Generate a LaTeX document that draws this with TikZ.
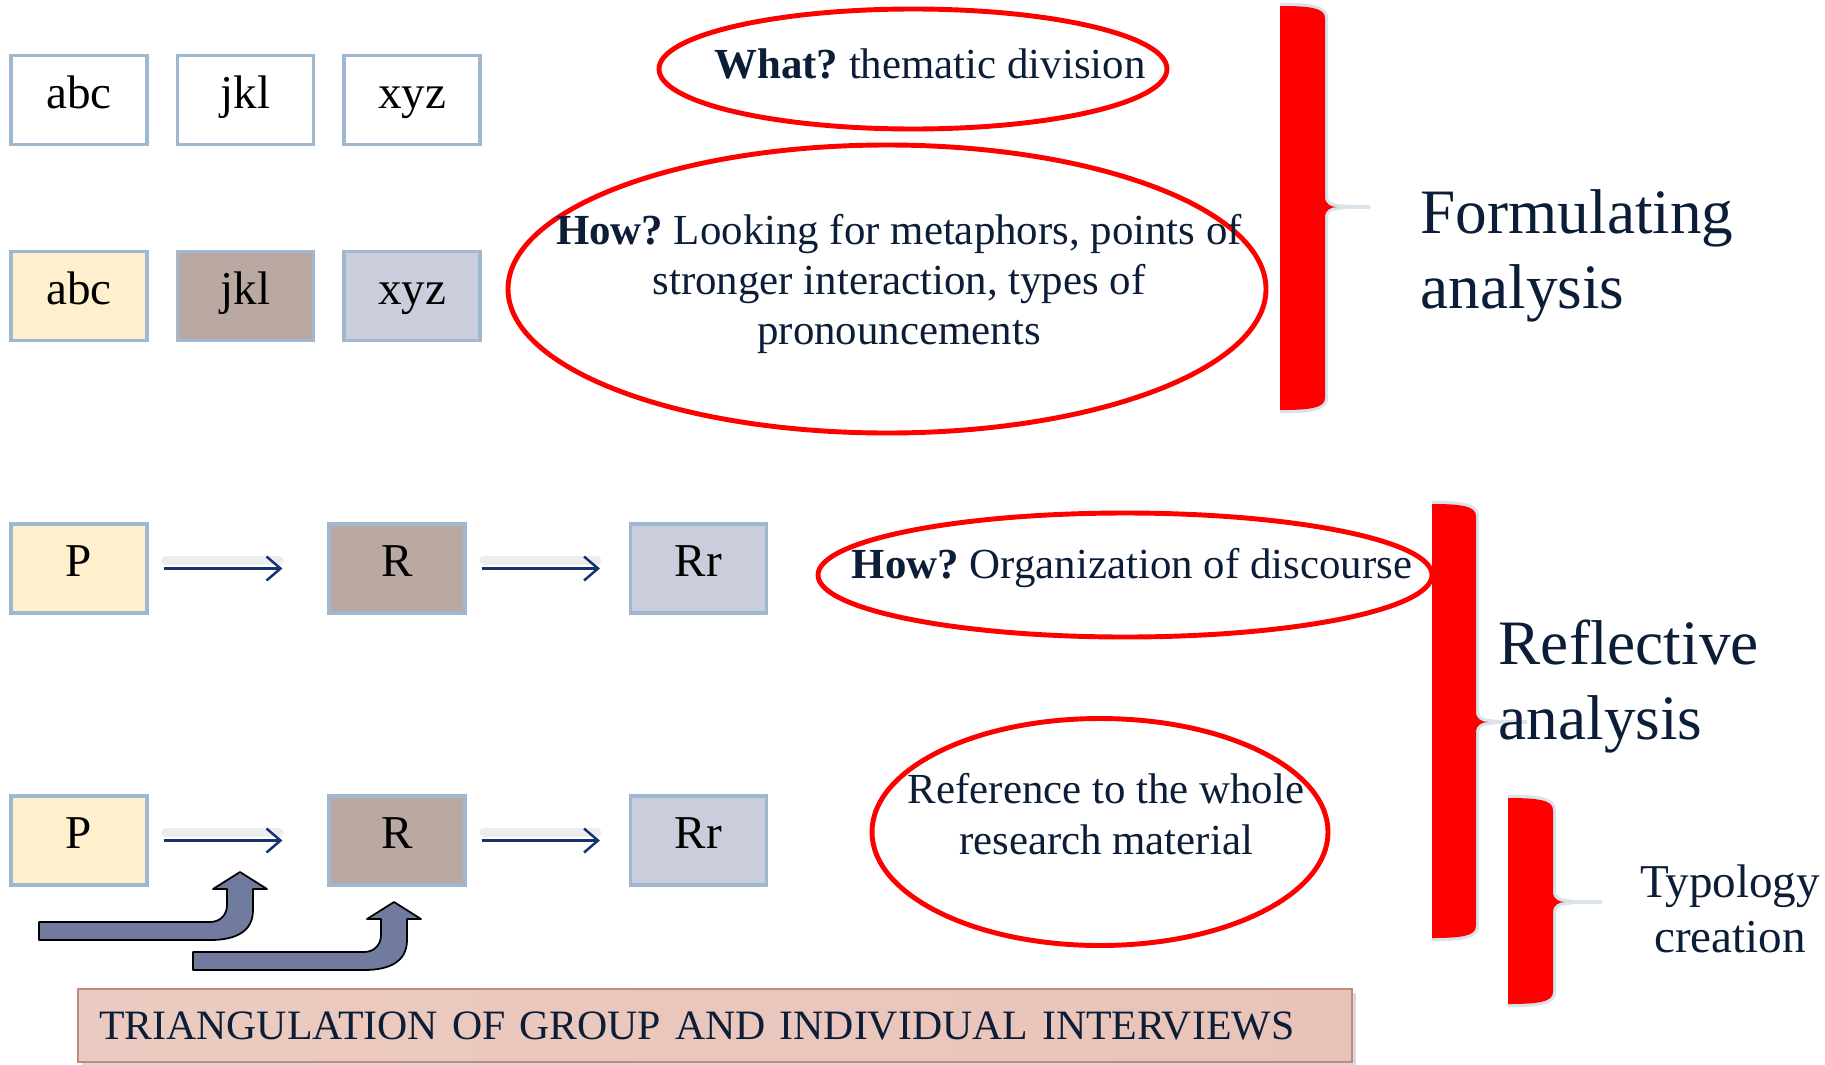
\documentclass[tikz,border=0pt]{standalone}
\usepackage{fontspec}
\setmainfont{Liberation Serif}
\usepackage{tikz}
\usetikzlibrary{shapes.geometric,arrows.meta,shadows}
\frenchspacing

\definecolor{boxline}{HTML}{A0B8CF}
\definecolor{cream}{HTML}{FEF0CD}
\definecolor{taupe}{HTML}{BAA9A2}
\definecolor{lilac}{HTML}{C9CDDC}
\definecolor{navy}{HTML}{0C1D38}
\definecolor{flowblue}{HTML}{17326E}
\definecolor{slate}{HTML}{717BA0}
\definecolor{braceline}{HTML}{D8E4EA}
\definecolor{roseleft}{HTML}{EBCBC1}
\definecolor{rosemid}{HTML}{E3AFA0}
\definecolor{roseright}{HTML}{E9C3B8}
\definecolor{roseline}{HTML}{C08A7C}

\tikzset{
  cell/.style={rectangle, draw=boxline, line width=0.9pt, minimum width=1.36cm, minimum height=0.89cm,
    inner sep=0pt, text height=0.7em, text depth=0.22em, font=\fontsize{13.4}{16}\selectfont},
  oval/.style={ellipse, draw=red, line width=1.4pt, inner sep=0pt},
  ovaltext/.style={align=center, text=navy, inner sep=0pt, font=\fontsize{12.2}{14.3}\selectfont},
  flow/.style={draw=flowblue, line width=0.7pt, -{Straight Barb[length=1.4mm,width=2.4mm]}},
  flowshade/.style={draw=black!7, line width=2.5pt, line cap=round},
  bigword/.style={text=navy, inner sep=0pt, font=\fontsize{18}{21.3}\selectfont},
  bent/.style={draw=black, fill=slate, line width=0.5pt, line join=round},
  banner/.style={draw=roseline, line width=0.6pt, left color=roseleft, middle color=rosemid, right color=roseright,
    minimum width=12.74cm, minimum height=0.73cm, text width=12.32cm, align=left, inner xsep=0.21cm, inner ysep=0pt,
    text=navy, font=\fontsize{11.9}{14}\selectfont, drop shadow={opacity=0.3, shadow xshift=0.04cm, shadow yshift=-0.04cm}},
}

\begin{document}
\begin{tikzpicture}
  \useasboundingbox (0,0) rectangle (18.25,10.64);
  % Boxes
  \foreach \n/\t/\x/\y/\c in {a1/abc/0.79/9.64/white, j1/jkl/2.455/9.64/white, x1/xyz/4.12/9.64/white,
      a2/abc/0.79/7.68/cream, j2/jkl/2.455/7.68/taupe, x2/xyz/4.12/7.68/lilac,
      P1/P/0.79/4.955/cream, R1/R/3.97/4.955/taupe, Rr1/Rr/6.985/4.955/lilac,
      P2/P/0.79/2.235/cream, R2/R/3.97/2.235/taupe, Rr2/Rr/6.985/2.235/lilac} {
    \node[cell, fill=\c] (\n) at (\x,\y) {\t};
  }
  % Edges
  \foreach \a/\b/\s in {P1/R1/0.45, R1/Rr1/0.29, P2/R2/0.45, R2/Rr2/0.29} {
    \draw[flowshade, transform canvas={yshift=0.08cm}, shorten <=0.17cm, shorten >=\s cm+0.03cm] (\a) -- (\b);
    \draw[flow, shorten <=0.15cm, shorten >=\s cm] (\a) -- (\b);
  }
  % Bent arrows
  \foreach \tx/\ty in {2.39/1.92, 3.93/1.62} {
    \draw[bent, shift={(\tx,\ty)}] (-2.00,-0.50) -- (-0.29,-0.50) .. controls (-0.19,-0.50) and (-0.12,-0.43) .. (-0.12,-0.33)
      -- (-0.12,-0.17) -- (-0.26,-0.17) -- (0.01,0) -- (0.28,-0.17) -- (0.14,-0.17) -- (0.14,-0.38)
      .. controls (0.14,-0.60) and (-0.04,-0.68) .. (-0.29,-0.68) -- (-2.00,-0.68) -- cycle;
  }
  % Ovals
  \node[oval, minimum width=5.08cm, minimum height=1.20cm,
    label={[ovaltext, xshift=0.17cm, yshift=0.05cm]center:{\textbf{What?} thematic division}}] (what) at (9.13,9.95) {};
  \node[oval, minimum width=7.58cm, minimum height=2.88cm,
    label={[ovaltext, xshift=0.12cm, yshift=0.05cm]center:{\textbf{How?} Looking for metaphors, points of\\stronger interaction, types of\\pronouncements}}] (how1) at (8.87,7.75) {};
  \node[oval, minimum width=6.14cm, minimum height=1.24cm,
    label={[ovaltext, xshift=0.07cm, yshift=0.07cm]center:{\textbf{How?} Organization of discourse}}] (how2) at (11.25,4.89) {};
  \node[oval, minimum width=4.56cm, minimum height=2.27cm,
    label={[ovaltext, xshift=0.06cm, yshift=0.18cm]center:{Reference to the whole\\research material}}] (ref) at (11.00,2.32) {};
  % Braces
  \foreach \xl/\xr/\yt/\yb/\ym/\xs in {12.80/13.25/10.58/6.54/8.57/13.68, 14.32/14.76/5.60/1.26/3.42/15.25, 15.08/15.53/2.66/0.60/1.62/16.00} {
    \draw[braceline, line width=1.4pt, line cap=round] (\xr+0.05,\ym) -- (\xs,\ym);
    \path[fill=red, preaction={draw=braceline, line width=1.8pt}] (\xl,\yt)
      .. controls (\xr-0.15,\yt) and (\xr,\yt-0.02) .. (\xr,\yt-0.12) -- (\xr,\ym+0.10)
      .. controls (\xr,\ym+0.03) and (\xr+0.06,\ym) .. (\xr+0.12,\ym)
      .. controls (\xr+0.06,\ym) and (\xr,\ym-0.03) .. (\xr,\ym-0.10) -- (\xr,\yb+0.12)
      .. controls (\xr,\yb+0.02) and (\xr-0.15,\yb) .. (\xl,\yb);
  }
  \node[bigword, anchor=west, align=left] (formulating) at (14.20,8.08) {Formulating\\analysis};
  \node[bigword, anchor=west, align=left] (reflective) at (14.98,3.775) {Reflective\\analysis};
  \node[bigword, align=center, font=\fontsize{13.4}{15.6}\selectfont] (typology) at (17.30,1.555) {Typology\\creation};
  % Banner
  \node[banner] (triang) at (7.15,0.385) {TRIANGULATION OF GROUP AND INDIVIDUAL INTERVIEWS};
\end{tikzpicture}
\end{document}
